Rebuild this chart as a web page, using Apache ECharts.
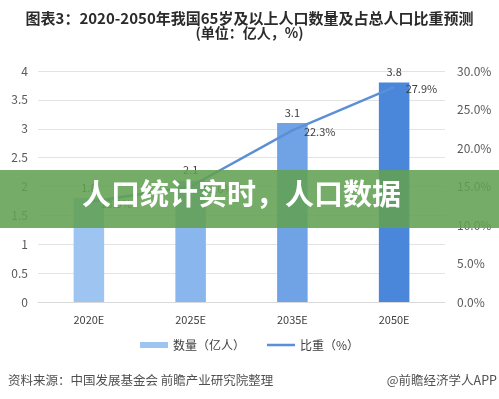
<!DOCTYPE html>
<html>
<head>
<meta charset="utf-8">
<style>
  html, body { margin: 0; padding: 0; background: #fff; }
  #chart { width: 499px; height: 399px; }
</style>
<script src="https://cdn.jsdelivr.net/npm/echarts@6/dist/echarts.min.js"></script>
</head>
<body>
<div id="chart"></div>
<script>
// data
var years = ['2020E', '2025E', '2035E', '2050E'];
var population = [1.8, 2.1, 3.1, 3.8];      // 亿人
var share = [13.0, 15.0, 22.3, 27.9];       // %
var barColors = ['#9ec4f1', '#8ab6ee', '#6fa3e6', '#4a87da'];

var font = "'Noto Sans CJK SC', 'Noto Sans', sans-serif";

var chart = echarts.init(document.getElementById('chart'));

var option = {
  backgroundColor: '#fff',
  textStyle: { fontFamily: font },
  title: {
    text: '图表3：2020-2050年我国65岁及以上人口数量及占总人口比重预测',
    subtext: '(单位：亿人，%)',
    left: 'center',
    top: 6,
    itemGap: 0,
    textStyle: { fontSize: 15, fontWeight: 'bold', color: '#2b2b2b', fontFamily: font },
    subtextStyle: { fontSize: 14, fontWeight: 'bold', color: '#2b2b2b', fontFamily: font }
  },
  grid: { left: 38, right: 54, top: 71, bottom: 97 },
  legend: {
    bottom: 43,
    left: 'center',
    itemGap: 22,
    itemWidth: 28,
    itemHeight: 6,
    textStyle: { fontSize: 12, color: '#404040', fontFamily: font },
    data: [
      { name: '数量（亿人）', icon: 'rect', itemStyle: { color: '#9ec4f1' } },
      { name: '比重（%）', icon: 'path://M0,0 L28,0 L28,2.5 L0,2.5 Z', itemStyle: { color: '#5b8fd6' } }
    ]
  },
  xAxis: {
    type: 'category',
    data: years,
    axisLine: { lineStyle: { color: '#d9d9d9' } },
    axisTick: { show: false },
    axisLabel: { color: '#404040', fontSize: 11, margin: 12 }
  },
  yAxis: [{
    type: 'value',
    min: 0, max: 4, interval: 0.5,
    axisLine: { show: false },
    axisTick: { show: false },
    splitLine: { lineStyle: { color: '#e3e3e3' } },
    axisLabel: { color: '#595959', fontSize: 12, margin: 10 }
  }, {
    type: 'value',
    min: 0, max: 30, interval: 5,
    axisLine: { show: false },
    axisTick: { show: false },
    splitLine: { show: false },
    axisLabel: {
      color: '#595959', fontSize: 12, margin: 12,
      formatter: function (v) { return v.toFixed(1) + '%'; }
    }
  }],
  series: [{
    name: '数量（亿人）',
    type: 'bar',
    barWidth: '30%',
    data: population.map(function (v, i) {
      return { value: v, itemStyle: { color: barColors[i] } };
    }),
    label: { show: true, position: 'top', distance: 5, color: '#404040', fontSize: 11 }
  }, {
    name: '比重（%）',
    type: 'line',
    yAxisIndex: 1,
    symbol: 'circle',
    symbolSize: 1,
    showSymbol: true,
    data: share,
    lineStyle: { color: '#5b8fd6', width: 2.5 },
    itemStyle: { color: '#5b8fd6' },
    label: {
      show: true, position: 'right', distance: 11, offset: [0, 2],
      color: '#404040', fontSize: 11,
      formatter: function (p) { return p.value.toFixed(1) + '%'; }
    }
  }],
  graphic: [
    {
      type: 'text', left: 8, top: 374,
      style: { text: '资料来源：中国发展基金会 前瞻产业研究院整理', fontSize: 12.5, fill: '#505050', fontFamily: font }
    },
    {
      type: 'text', right: 2, top: 374,
      style: { text: '@前瞻经济学人APP', fontSize: 12.5, fill: '#505050', fontFamily: font }
    },
    {
      type: 'rect', left: 0, top: 170, z: 100,
      shape: { width: 499, height: 58 },
      style: { fill: 'rgba(98,160,82,0.88)' }
    },
    {
      type: 'text', left: 82, top: 179, z: 101,
      style: { text: '人口统计实时，人口数据', fontSize: 29, fontWeight: 'bold', fill: '#fff', fontFamily: font }
    }
  ]
};

chart.setOption(option);
</script>
</body>
</html>
